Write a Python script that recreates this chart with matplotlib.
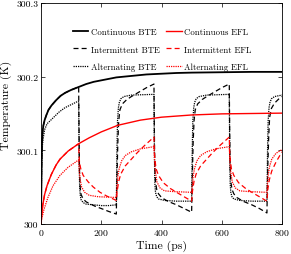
import matplotlib
matplotlib.use("Agg")
import matplotlib.pyplot as plt
import numpy as np

# значения (время, пс / температура, K)
t_cont_bte = [0, 1, 2, 3, 4, 6, 8, 12, 18, 25, 35, 50, 65, 80, 100, 125, 150, 175, 200, 250,
              300, 350, 400, 450, 500, 600, 700, 800]
T_cont_bte = [300.000, 300.040, 300.080, 300.105, 300.118, 300.128, 300.134, 300.141, 300.148,
              300.155, 300.161, 300.168, 300.174, 300.178, 300.182, 300.186, 300.190, 300.193,
              300.195, 300.199, 300.201, 300.203, 300.204, 300.205, 300.2055, 300.206, 300.2065,
              300.2065]

t_int_bte = [0, 1, 2, 3, 4, 6, 8, 12, 18, 25, 35, 50, 65, 80, 100, 125,
             126, 127, 128, 130, 133, 140, 150, 165, 180, 200, 225, 250,
             252, 255, 258, 262, 270, 285, 300, 325, 350, 375,
             376, 377, 378, 380, 384, 390, 400, 420, 450, 475, 500,
             502, 505, 508, 512, 520, 535, 550, 575, 600, 625,
             626, 627, 628, 630, 634, 640, 650, 670, 700, 725, 750,
             751, 753, 756, 759, 765, 775, 790, 800]
T_int_bte = [300.000, 300.040, 300.080, 300.105, 300.118, 300.128, 300.134, 300.141, 300.148,
             300.155, 300.161, 300.168, 300.174, 300.178, 300.182, 300.186,
             300.140, 300.095, 300.070, 300.050, 300.040, 300.034, 300.030, 300.027, 300.024,
             300.021, 300.017, 300.0135,
             300.060, 300.110, 300.140, 300.155, 300.163, 300.169, 300.173, 300.179, 300.185,
             300.190,
             300.140, 300.100, 300.075, 300.058, 300.047, 300.041, 300.036, 300.031, 300.026,
             300.021, 300.016,
             300.060, 300.110, 300.140, 300.155, 300.163, 300.169, 300.173, 300.179, 300.185,
             300.190,
             300.140, 300.100, 300.075, 300.058, 300.047, 300.041, 300.036, 300.031, 300.026,
             300.021, 300.015,
             300.040, 300.080, 300.120, 300.145, 300.157, 300.164, 300.170, 300.173]

t_alt_bte = [0, 1, 2, 3, 5, 8, 12, 20, 30, 45, 60, 80, 100, 125,
             126, 127, 128, 130, 133, 140, 150, 175, 200, 225, 250,
             251, 252, 254, 257, 260, 265, 275, 300, 375,
             376, 377, 378, 380, 384, 390, 410, 450, 500,
             501, 502, 504, 507, 510, 515, 525, 550, 625,
             626, 627, 628, 630, 634, 640, 660, 700, 750,
             751, 752, 754, 757, 760, 765, 775, 800]
T_alt_bte = [300.000, 300.035, 300.070, 300.090, 300.108, 300.118, 300.128, 300.136, 300.140,
             300.146, 300.152, 300.158, 300.162, 300.167,
             300.120, 300.080, 300.055, 300.040, 300.033, 300.029, 300.027, 300.026, 300.025,
             300.025, 300.026,
             300.060, 300.100, 300.140, 300.158, 300.165, 300.170, 300.173, 300.175, 300.176,
             300.120, 300.080, 300.055, 300.043, 300.037, 300.034, 300.032, 300.031, 300.031,
             300.060, 300.100, 300.140, 300.158, 300.165, 300.170, 300.173, 300.175, 300.176,
             300.120, 300.080, 300.055, 300.043, 300.037, 300.034, 300.032, 300.031, 300.031,
             300.060, 300.100, 300.140, 300.158, 300.165, 300.170, 300.173, 300.175]

t_cont_efl = [0, 3, 6, 12, 20, 34, 50, 63, 90, 125, 160, 200, 255, 330, 400, 500, 600, 700, 800]
T_cont_efl = [300.000, 300.015, 300.026, 300.040, 300.052, 300.067, 300.080, 300.088, 300.099,
              300.109, 300.117, 300.125, 300.134, 300.141, 300.145, 300.148, 300.1495, 300.150,
              300.1505]

t_int_efl = [0, 3, 6, 12, 20, 34, 50, 63, 90, 125,
             126, 128, 132, 140, 157, 174, 196, 218, 250,
             253, 258, 265, 280, 300, 320, 345, 375,
             376, 378, 382, 390, 406, 430, 450, 475, 500,
             503, 508, 515, 530, 550, 570, 595, 625,
             626, 628, 632, 640, 656, 680, 700, 725, 750,
             753, 758, 766, 780, 800]
T_int_efl = [300.000, 300.015, 300.026, 300.040, 300.052, 300.067, 300.080, 300.088, 300.099,
             300.109,
             300.095, 300.083, 300.075, 300.066, 300.057, 300.050, 300.043, 300.038, 300.032,
             300.045, 300.058, 300.068, 300.079, 300.088, 300.097, 300.107, 300.118,
             300.100, 300.088, 300.075, 300.066, 300.056, 300.048, 300.043, 300.037, 300.031,
             300.045, 300.058, 300.068, 300.079, 300.088, 300.097, 300.107, 300.118,
             300.100, 300.088, 300.075, 300.066, 300.056, 300.048, 300.043, 300.037, 300.031,
             300.047, 300.060, 300.072, 300.084, 300.098]

t_alt_efl = [0, 3, 10, 23, 40, 63, 90, 125,
             127, 130, 135, 145, 160, 190, 250,
             252, 255, 260, 268, 280, 300, 330, 375,
             377, 380, 385, 395, 410, 440, 500,
             502, 505, 510, 518, 530, 550, 580, 625,
             627, 630, 635, 645, 660, 690, 750,
             751, 754, 758, 766, 780, 800]
T_alt_efl = [300.000, 300.008, 300.020, 300.036, 300.052, 300.066, 300.077, 300.087,
             300.072, 300.060, 300.050, 300.043, 300.039, 300.037, 300.036,
             300.050, 300.065, 300.076, 300.086, 300.093, 300.098, 300.102, 300.105,
             300.085, 300.070, 300.057, 300.049, 300.045, 300.044, 300.043,
             300.050, 300.065, 300.076, 300.086, 300.093, 300.098, 300.102, 300.105,
             300.085, 300.070, 300.057, 300.049, 300.045, 300.044, 300.043,
             300.050, 300.065, 300.077, 300.088, 300.096, 300.101]

plt.rcParams['font.family'] = ['cmr10']
plt.rcParams['mathtext.fontset'] = 'cm'
plt.rcParams['axes.formatter.use_mathtext'] = True

fig = plt.figure(figsize=(2.91, 2.55), dpi=100)
ax = fig.add_axes([41 / 291, 30 / 255, 241 / 291, 221 / 255])

ax.plot(t_cont_bte, T_cont_bte, color='black', lw=1.3, label='Continuous BTE')
ax.plot(t_int_bte, T_int_bte, color='black', lw=0.9, ls=(0, (4, 2.5)), label='Intermittent BTE')
ax.plot(t_alt_bte, T_alt_bte, color='black', lw=0.9, ls=(0, (1, 0.8)), label='Alternating BTE')
ax.plot(t_cont_efl, T_cont_efl, color='red', lw=1.0, label='Continuous EFL')
ax.plot(t_int_efl, T_int_efl, color='red', lw=0.9, ls=(0, (4, 2.5)), label='Intermittent EFL')
ax.plot(t_alt_efl, T_alt_efl, color='red', lw=0.9, ls=(0, (1, 0.8)), label='Alternating EFL')

ax.set_xlim(0, 800)
ax.set_ylim(300, 300.3)
ax.set_xticks([0, 200, 400, 600, 800])
ax.set_yticks([300, 300.1, 300.2, 300.3])
ax.set_yticklabels(['300', '300.1', '300.2', '300.3'])
ax.tick_params(direction='in', top=True, right=True, length=3, width=0.5, labelsize=7, pad=2)
for s in ax.spines.values():
    s.set_linewidth(0.6)

ax.set_xlabel('Time (ps)', fontsize=8.5, labelpad=2)
ax.set_ylabel('Temperature (K)', fontsize=8.5)
ax.yaxis.set_label_coords(-0.12, 0.54)

ax.legend(ncol=2, loc='upper left', bbox_to_anchor=(0.133, 0.887), frameon=False,
          fontsize=6.3, handlelength=1.75, handletextpad=0.25, columnspacing=0.8,
          labelspacing=1.0, borderpad=0, borderaxespad=0)

plt.savefig('out.png', dpi=100)
